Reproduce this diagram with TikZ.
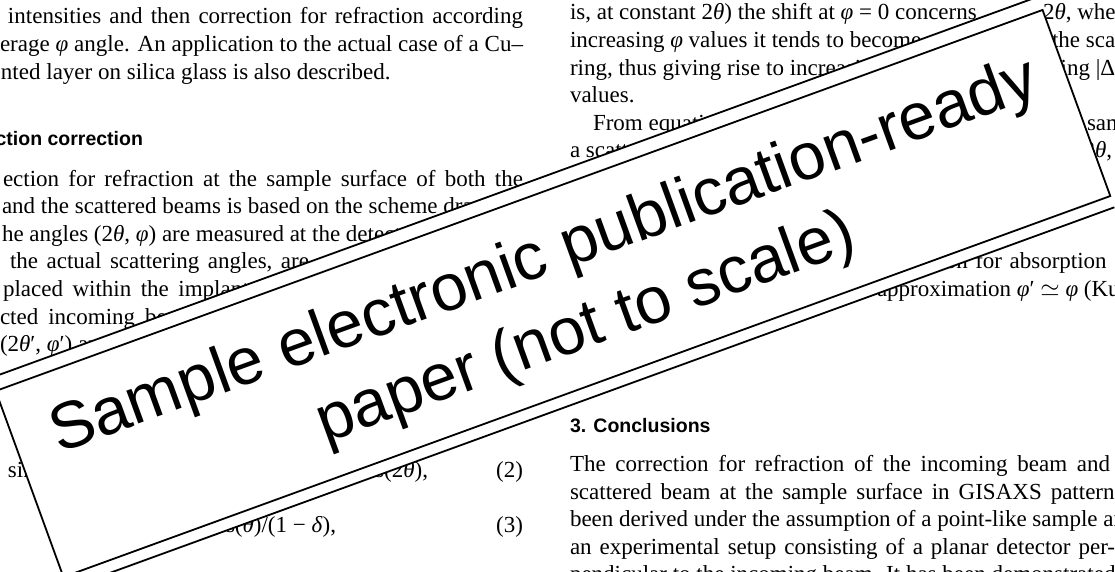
\documentclass[tikz,border=0pt]{standalone}
\usepackage{fontspec}
\setmainfont{Liberation Serif}
\setsansfont{Liberation Sans}
\newcommand{\txtfont}{\fontsize{23}{27.6}\selectfont}
\newcommand{\hdfont}{\sffamily\bfseries\fontsize{19.5}{24}\selectfont}
\newcommand{\bnfont}{\sffamily\fontsize{66}{78}\selectfont}
\newcommand{\vth}{\textit{θ}}
\newcommand{\vph}{\textit{φ}}
% wider interword space for loosely justified lines
\newcommand{\wide}[1]{\spaceskip=#1pt plus 2pt minus 1pt\relax}
\tikzset{
  body/.style={font=\txtfont, anchor=base west, inner sep=0pt, outer sep=0pt},
  head/.style={font=\hdfont, anchor=base west, inner sep=0pt, outer sep=0pt},
  bannertext/.style={font=\bnfont, anchor=base, inner sep=0pt},
  rule/.style={line width=1.8pt, line cap=butt},
}
\begin{document}
\begin{tikzpicture}[x=1pt, y=-1pt]
\useasboundingbox (0,0) rectangle (1115,572);
\fill[white] (0,0) rectangle (1115,572);

% ---- left column (right margin at x = 523) ----
\node[body] (l1) at (8,24) {\hbox to 515pt{intensities and then correction for refraction according}};
\node[body] (l2) at (0,51.6) {\hbox to 523pt{erage \vph{} angle. An application to the actual case of a Cu–}};
\node[body] (l3) at (1,79.2) {nted layer on silica glass is also described.};
\node[head, anchor=base east] (h1) at (143,146) {ction correction};
\node[body] (l4) at (3,186) {\hbox to 520pt{ection for refraction at the sample surface of both the}};
\node[body] (l5) at (2,213.6) {and the scattered beams is based on the scheme drawn};
\node[body] (l6) at (2,241.2) {he angles (2\vth, \vph) are measured at the detector};
\node[body] (l7) at (10,268.8) {\wide{8.5}the actual scattering angles, are};
\node[body] (l8) at (3,296.4) {\wide{9.5}placed within the implanted};
\node[body] (l9) at (0,324) {\wide{10}cted incoming beam};
\node[body] (l10) at (0,351.6) {(2\vth′, \vph′) are};
\node[body] (e2a) at (8,477) {sin};
\node[body, anchor=base east] (e2b) at (428,477) {cos(2\vth),};
\node[body, anchor=base east] (e2n) at (523,477) {(2)};
\node[body, anchor=base east] (e3b) at (336,532) {cos(\vth)/(1 − \textit{δ}),};
\node[body, anchor=base east] (e3n) at (523,532) {(3)};

% ---- right column ----
\node[body] (r1) at (570,20) {is, at constant 2\vth) the shift at \vph{} = 0 concerns};
\node[body] (r1b) at (1043,20) {2\vth, whereas};
\node[body] (r2) at (570,47.6) {increasing \vph{} values it tends to become};
\node[body] (r2b) at (1052,47.6) {the scattering};
\node[body] (r3) at (570,75.2) {ring, thus giving rise to increasing};
\node[body] (r3b) at (1060.6,75.2) {ing |Δ2\vth|};
\node[body] (r4) at (570,102.8) {values.};
\node[body] (r5) at (593,130.4) {From equations};
\node[body] (r5b) at (1087,130.4) {same};
\node[body] (r6) at (570,158) {a scattering};
\node[body] (r6b) at (1083.5,158) {2\vth,};
\node[body] (r7) at (932,268.6) {\wide{7.5}tion for absorption};
\node[body, anchor=base east] (r8a) at (871,296.2) {the};
\node[body] (r8b) at (877,296.2) {approximation \vph′ $\simeq$ \vph{} (Ku};
\node[head] (h2) at (570,432) {3. Conclusions};
\node[body] (c1) at (570,471.5) {\hbox to 540pt{The correction for refraction of the incoming beam and}};
\node[body] (c2) at (570,499.1) {\wide{9}scattered beam at the sample surface in GISAXS patterns};
\node[body] (c3) at (570,526.7) {been derived under the assumption of a point-like sample and};
\node[body] (c4) at (570,554.3) {\wide{8}an experimental setup consisting of a planar detector per-};
\node[body] (c5) at (570,581.9) {pendicular to the incoming beam. It has been demonstrated that};

% ---- tilted banner ----
\begin{scope}[shift={(553,293.5)}, rotate=20, transform shape]
  \fill[white] (-557pt,-111pt) rectangle (557pt,113pt);
  \coordinate (tl) at (-557pt,113pt);
  \coordinate (tr) at (557pt,113pt);
  \coordinate (bl) at (-557pt,-111pt);
  \coordinate (br) at (557pt,-111pt);
  \draw[rule] (tl) -- (tr);
  \draw[rule] (bl) -- (br);
  \node[draw, rule, fill=white, minimum width=1114pt, minimum height=198pt, inner sep=0pt] (banner) at (0pt,0pt) {};
  \node[bannertext] (b1) at (4pt,19pt) {Sample electronic publication-ready};
  \node[bannertext] (b2) at (19pt,-63pt) {paper (not to scale)};
\end{scope}
\end{tikzpicture}
\end{document}
